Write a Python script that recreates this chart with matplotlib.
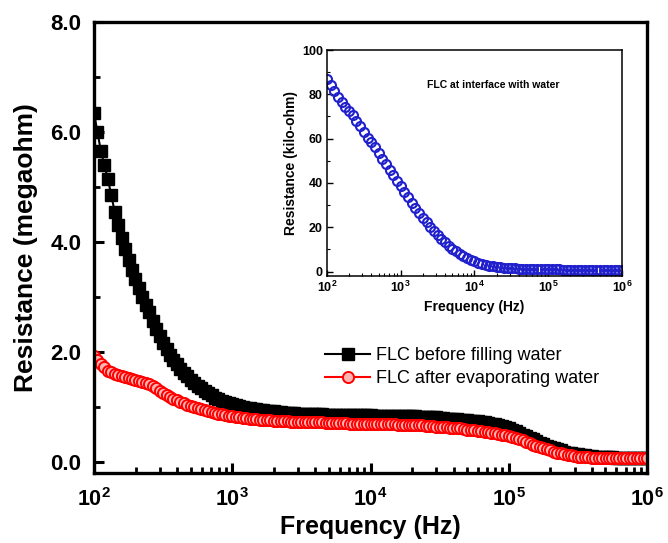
import matplotlib
matplotlib.use('Agg')
import matplotlib.pyplot as plt
import matplotlib.ticker as ticker
import numpy as np

plt.rcParams['font.family'] = ['Liberation Sans', 'DejaVu Sans']
plt.rcParams['mathtext.fontset'] = 'custom'
plt.rcParams['mathtext.rm'] = 'Liberation Sans:bold'
plt.rcParams['mathtext.it'] = 'Liberation Sans:bold'
plt.rcParams['mathtext.bf'] = 'Liberation Sans:bold'

# log10 of frequency, main plot read every 0.025 decade from 10^2 to 10^6 Hz
log_f = np.round(np.arange(2.0, 6.0001, 0.025), 3)
freq = 10 ** log_f
# inset read every 0.05 decade
log_f_in = np.round(np.arange(2.0, 6.001, 0.05), 2)
freq_in = 10 ** log_f_in

# main plot, megaohm
before_fill = [6.35, 6.00, 5.65, 5.40, 5.15, 4.85, 4.55, 4.30, 4.08, 3.88,
               3.68, 3.50, 3.32, 3.16, 3.00, 2.86, 2.72, 2.57, 2.42, 2.29,
               2.17, 2.06, 1.95, 1.86, 1.78, 1.70, 1.62, 1.56, 1.50, 1.44,
               1.39, 1.34, 1.30, 1.25, 1.21, 1.17, 1.14, 1.11, 1.09, 1.07,
               1.05, 1.03, 1.02, 1.00, 0.99, 0.98, 0.97, 0.96, 0.95, 0.94,
               0.93, 0.92, 0.92, 0.91, 0.91, 0.90, 0.90, 0.89, 0.89, 0.88,
               0.88, 0.88, 0.88, 0.87, 0.87, 0.87, 0.87, 0.86, 0.86, 0.86,
               0.86, 0.86, 0.86, 0.85, 0.85, 0.85, 0.85, 0.85, 0.85, 0.85,
               0.85, 0.84, 0.84, 0.84, 0.84, 0.84, 0.84, 0.83, 0.83, 0.83,
               0.83, 0.83, 0.83, 0.83, 0.82, 0.82, 0.82, 0.81, 0.81, 0.81,
               0.80, 0.80, 0.79, 0.79, 0.78, 0.78, 0.77, 0.76, 0.76, 0.75,
               0.74, 0.74, 0.73, 0.72, 0.71, 0.70, 0.69, 0.68, 0.66, 0.64,
               0.62, 0.59, 0.56, 0.53, 0.50, 0.47, 0.44, 0.41, 0.38, 0.35,
               0.32, 0.30, 0.27, 0.25, 0.23, 0.21, 0.19, 0.17, 0.16, 0.15,
               0.14, 0.13, 0.12, 0.11, 0.11, 0.10, 0.10, 0.09, 0.09, 0.09,
               0.09, 0.08, 0.08, 0.08, 0.08, 0.08, 0.08, 0.08, 0.08, 0.07,
               0.07]
after_evap = [1.92, 1.85, 1.78, 1.72, 1.66, 1.63, 1.60, 1.58, 1.56, 1.545,
              1.53, 1.515, 1.50, 1.48, 1.46, 1.44, 1.41, 1.38, 1.34, 1.30,
              1.26, 1.22, 1.18, 1.15, 1.12, 1.095, 1.07, 1.045, 1.02, 1.00,
              0.98, 0.96, 0.94, 0.925, 0.91, 0.895, 0.88, 0.865, 0.85, 0.84,
              0.83, 0.82, 0.81, 0.805, 0.80, 0.79, 0.78, 0.775, 0.77, 0.765,
              0.76, 0.755, 0.75, 0.745, 0.74, 0.74, 0.74, 0.735, 0.73, 0.73,
              0.73, 0.725, 0.72, 0.72, 0.72, 0.72, 0.72, 0.715, 0.71, 0.71,
              0.71, 0.71, 0.71, 0.705, 0.70, 0.70, 0.70, 0.70, 0.70, 0.70,
              0.70, 0.695, 0.69, 0.69, 0.69, 0.69, 0.69, 0.685, 0.68, 0.68,
              0.68, 0.675, 0.67, 0.67, 0.67, 0.665, 0.66, 0.655, 0.65, 0.645,
              0.64, 0.635, 0.63, 0.625, 0.62, 0.615, 0.61, 0.60, 0.59, 0.585,
              0.58, 0.57, 0.56, 0.55, 0.54, 0.535, 0.53, 0.515, 0.50, 0.49,
              0.48, 0.46, 0.44, 0.42, 0.40, 0.37, 0.34, 0.315, 0.29, 0.27,
              0.25, 0.23, 0.21, 0.19, 0.17, 0.155, 0.14, 0.13, 0.12, 0.11,
              0.10, 0.095, 0.09, 0.085, 0.08, 0.08, 0.08, 0.075, 0.075, 0.075,
              0.07, 0.07, 0.07, 0.07, 0.07, 0.07, 0.07, 0.07, 0.07, 0.07,
              0.07]

# inset, kilo-ohm
interface = [87.0, 84.0, 81.5, 79.0, 76.5, 74.5, 72.5, 70.5, 68.0, 65.5,
             63.0, 60.5, 58.5, 56.0, 53.5, 51.0, 48.5, 46.0, 43.5, 41.0,
             38.5, 36.0, 33.5, 31.0, 28.8, 26.5, 24.3, 22.2, 20.2, 18.3,
             16.5, 14.8, 13.2, 11.7, 10.3, 9.1, 8.0, 7.0, 6.1, 5.3,
             4.6, 4.0, 3.5, 3.1, 2.7, 2.4, 2.2, 2.0, 1.8, 1.6,
             1.5, 1.4, 1.3, 1.2, 1.2, 1.1, 1.1, 1.0, 1.0, 1.0,
             1.0, 1.0, 1.0, 1.0, 0.9, 0.9, 0.9, 0.9, 0.9, 0.9,
             0.9, 0.9, 0.9, 0.9, 0.9, 0.9, 0.9, 0.9, 0.9, 0.9,
             0.9]

main_yticks = [0.0, 2.0, 4.0, 6.0, 8.0]
inset_yticks = [0, 20, 40, 60, 80, 100]


def pow_fmt(v, pos):
    return r'$10^{%d}$' % int(round(np.log10(v)))


fig = plt.figure(figsize=(6.68, 5.43), dpi=100)
ax = fig.add_axes([0.1407, 0.1289, 0.8279, 0.8306])

ax.plot(freq, before_fill, color='black', marker='s', markersize=8,
        linestyle='-', linewidth=1.5, label='FLC before filling water')
ax.plot(freq, after_evap, color='#ff0000', marker='o', markersize=8,
        markerfacecolor='#ffb4b4', markeredgecolor='#ff0000', markeredgewidth=1.4,
        linestyle='-', linewidth=1.5, label='FLC after evaporating water')

ax.set_xscale('log')
ax.set_xlim(1e2, 1e6)
ax.set_ylim(-0.2, 8.0)
ax.set_yticks(main_yticks)
ax.yaxis.set_major_formatter(ticker.FormatStrFormatter('%.1f'))
ax.yaxis.set_minor_locator(ticker.MultipleLocator(1.0))
ax.xaxis.set_major_formatter(ticker.FuncFormatter(pow_fmt))
ax.xaxis.set_minor_locator(ticker.LogLocator(base=10, subs=np.arange(2, 10)))
ax.xaxis.set_minor_formatter(ticker.NullFormatter())
for s in ax.spines.values():
    s.set_linewidth(2.4)
ax.tick_params(which='major', direction='in', length=7, width=2.2,
               labelsize=16, pad=9)
ax.tick_params(which='minor', direction='in', length=4, width=2.0)
ax.tick_params(axis='x', which='major', pad=11, labelsize=15.5)
for lbl in ax.get_yticklabels():
    lbl.set_fontweight('bold')
ax.set_xlabel('Frequency (Hz)', fontsize=18, fontweight='bold', labelpad=3)
ax.set_ylabel('Resistance (megaohm)', fontsize=19, fontweight='bold', labelpad=9)

leg = ax.legend(loc='upper left', bbox_to_anchor=(0.405, 0.295), frameon=False,
                fontsize=13, handlelength=2.5, handletextpad=0.3, labelspacing=0.35,
                borderaxespad=0)
leg.set_zorder(5)

# inset
ins = fig.add_axes([0.4895, 0.4917, 0.4416, 0.4162])
ins.plot(freq_in, interface, linestyle='none', marker='o', markersize=6.5,
         markerfacecolor='none', markeredgecolor='#2020cc', markeredgewidth=1.5)
ins.set_xscale('log')
ins.set_xlim(1e2, 1e6)
ins.set_ylim(-2, 100)
ins.set_yticks(inset_yticks)
ins.yaxis.set_minor_locator(ticker.MultipleLocator(10))
ins.xaxis.set_major_formatter(ticker.FuncFormatter(pow_fmt))
ins.xaxis.set_minor_locator(ticker.LogLocator(base=10, subs=np.arange(2, 10)))
ins.xaxis.set_minor_formatter(ticker.NullFormatter())
for s in ins.spines.values():
    s.set_linewidth(1.1)
ins.tick_params(which='major', direction='in', length=4, width=1.0,
                labelsize=9, pad=3)
ins.tick_params(which='minor', direction='in', length=2, width=0.8)
for lbl in ins.get_yticklabels():
    lbl.set_fontweight('bold')
ins.set_xlabel('Frequency (Hz)', fontsize=10, fontweight='bold', labelpad=3)
ins.set_ylabel('Resistance (kilo-ohm)', fontsize=10, fontweight='bold', labelpad=3)
ins.text(0.34, 0.845, 'FLC at interface with water', transform=ins.transAxes,
         fontsize=7.5, fontweight='bold', va='center')

fig.savefig('out.png', dpi=100)
